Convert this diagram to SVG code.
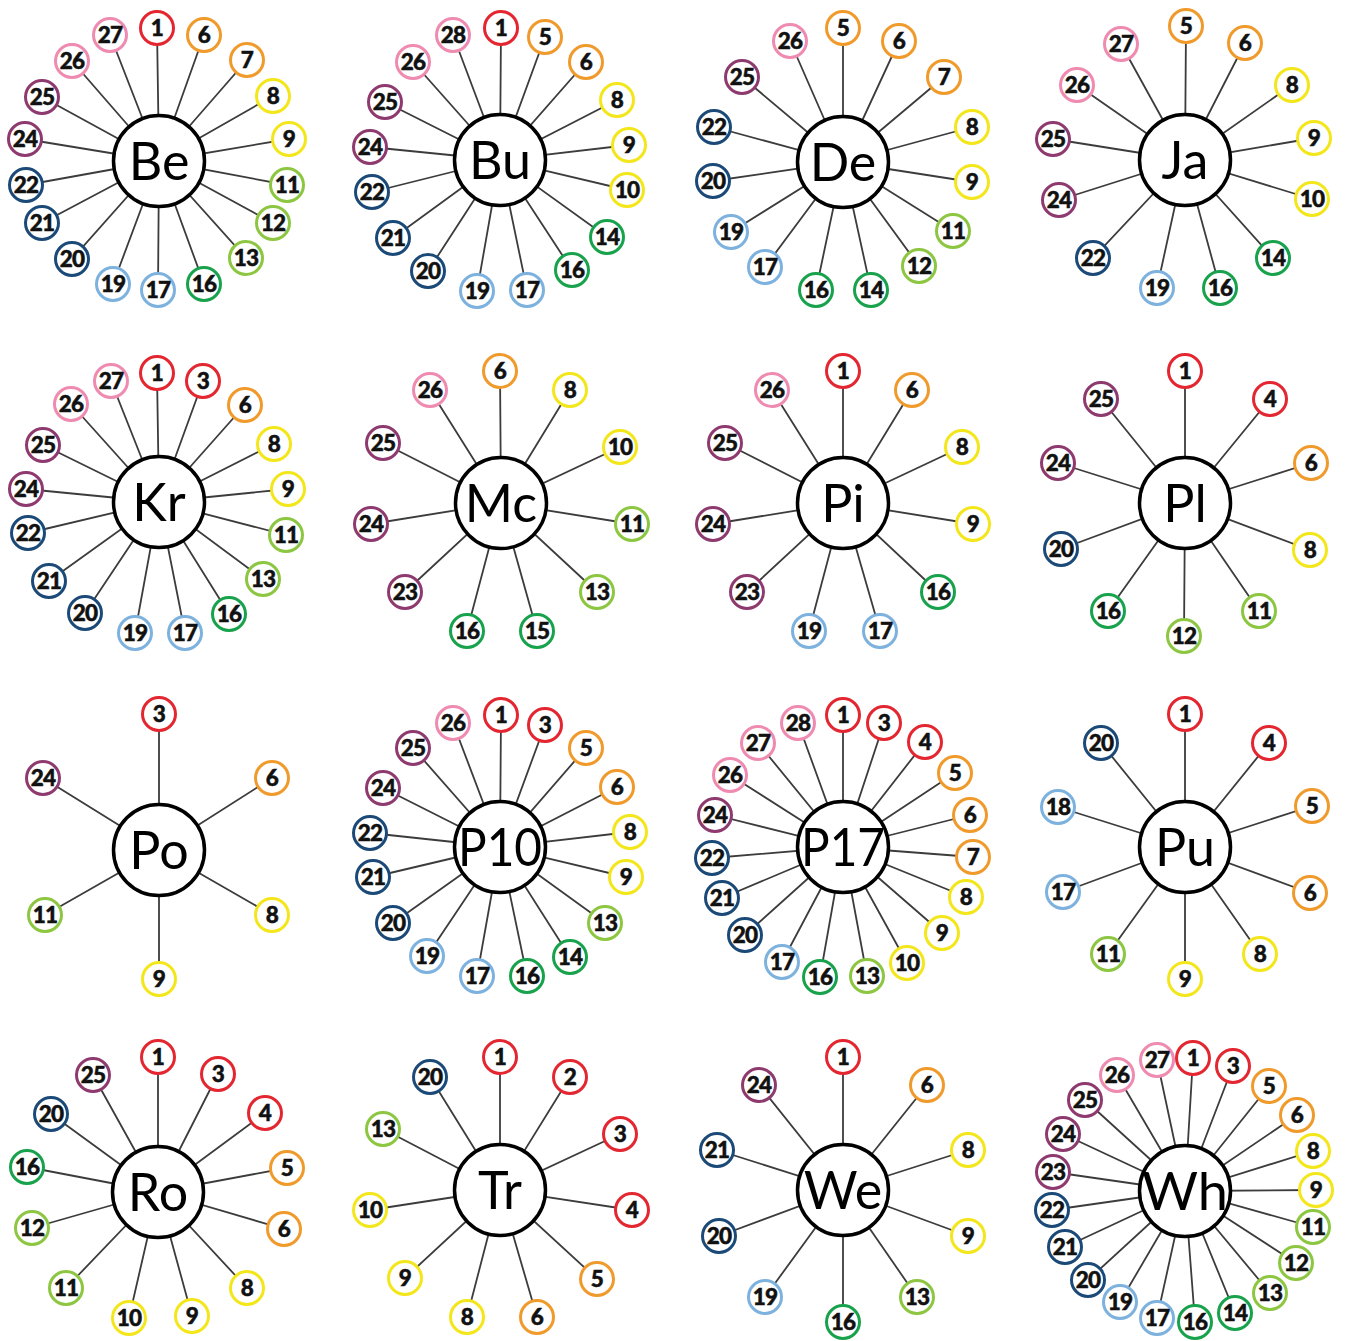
<svg xmlns="http://www.w3.org/2000/svg" width="1345" height="1341" viewBox="0 0 1345 1341">
<style>
.bg{fill:#fff}
#connectors path{fill:none;stroke:#3c3c3c;stroke-width:1.8}
.hub circle{fill:#fff;stroke:#000;stroke-width:3.5}
.hub text{font-family:Lato,"Open Sans","Liberation Sans",sans-serif;font-size:52px;text-anchor:middle;fill:#000}
.s circle{fill:#fff;stroke-width:3}
.s text{font-family:Lato,"Liberation Sans",sans-serif;font-weight:900;font-size:22.5px;text-anchor:middle;fill:#111;stroke:#111;stroke-width:0.5;letter-spacing:-0.8px}
.r circle{stroke:#e32630}
.o circle{stroke:#f09a2c}
.y circle{stroke:#f3e61a}
.l circle{stroke:#8dc641}
.g circle{stroke:#18a24c}
.b circle{stroke:#7db1de}
.d circle{stroke:#1c4a78}
.p circle{stroke:#8f3a6f}
.k circle{stroke:#ef8ab0}
</style>
<rect class="bg" width="1345" height="1341"/>
<g id="connectors">
<path id="be-links" d="M159 161L157 28M159 161L204 35M159 161L247 60M159 161L273 96M159 161L289 139M159 161L287 185M159 161L273 223M159 161L246 258M159 161L204 284M159 161L158 290M159 161L113 284M159 161L72 259M159 161L42 223M159 161L26 185M159 161L25 139M159 161L42 97M159 161L72 61M159 161L110 35"/>
<path id="bu-links" d="M500 160L501 28M500 160L545 37M500 160L586 62M500 160L617 100M500 160L629 145M500 160L627 190M500 160L607 237M500 160L572 270M500 160L527 290M500 160L477 291M500 160L428 271M500 160L393 238M500 160L372 192M500 160L370 147M500 160L385 102M500 160L413 62M500 160L453 35"/>
<path id="de-links" d="M843 162L843 28M843 162L899 41M843 162L944 77M843 162L972 127M843 162L972 182M843 162L953 231M843 162L919 266M843 162L871 290M843 162L816 290M843 162L765 267M843 162L731 232M843 162L713 181M843 162L714 127M843 162L742 77M843 162L790 41"/>
<path id="ja-links" d="M1185 160L1186 26M1185 160L1245 43M1185 160L1292 85M1185 160L1314 138M1185 160L1312 199M1185 160L1273 258M1185 160L1220 288M1185 160L1157 288M1185 160L1093 258M1185 160L1059 200M1185 160L1053 139M1185 160L1077 85M1185 160L1121 44"/>
<path id="kr-links" d="M159 502L157 373M159 502L203 381M159 502L245 405M159 502L274 444M159 502L288 489M159 502L286 535M159 502L263 579M159 502L229 614M159 502L185 633M159 502L135 633M159 502L85 613M159 502L49 581M159 502L28 533M159 502L26 489M159 502L43 445M159 502L71 404M159 502L111 381"/>
<path id="mc-links" d="M501 503L500 371M501 503L570 390M501 503L620 447M501 503L632 524M501 503L597 592M501 503L537 631M501 503L467 631M501 503L405 592M501 503L371 524M501 503L383 443M501 503L430 390"/>
<path id="pi-links" d="M843 503L843 371M843 503L912 390M843 503L962 447M843 503L973 524M843 503L938 592M843 503L880 631M843 503L809 631M843 503L747 592M843 503L713 524M843 503L725 443M843 503L772 390"/>
<path id="pl-links" d="M1185 503L1185 371M1185 503L1270 399M1185 503L1311 463M1185 503L1310 550M1185 503L1259 611M1185 503L1184 636M1185 503L1108 611M1185 503L1061 549M1185 503L1058 463M1185 503L1101 399"/>
<path id="po-links" d="M159 850L159 714M159 850L272 778M159 850L272 915M159 850L159 979M159 850L45 915M159 850L43 778"/>
<path id="p10-links" d="M500 847L501 715M500 847L545 725M500 847L586 748M500 847L617 787M500 847L630 832M500 847L626 877M500 847L605 923M500 847L570 957M500 847L527 976M500 847L477 976M500 847L427 956M500 847L393 923M500 847L373 877M500 847L370 833M500 847L383 788M500 847L413 748M500 847L453 723"/>
<path id="p17-links" d="M843 847L843 715M843 847L884 723M843 847L925 742M843 847L955 773M843 847L970 815M843 847L973 857M843 847L966 897M843 847L942 933M843 847L907 963M843 847L867 976M843 847L820 977M843 847L782 962M843 847L745 935M843 847L722 898M843 847L712 858M843 847L715 815M843 847L730 775M843 847L758 743M843 847L798 723"/>
<path id="pu-links" d="M1185 847L1185 714M1185 847L1269 743M1185 847L1312 806M1185 847L1310 893M1185 847L1260 954M1185 847L1185 979M1185 847L1108 954M1185 847L1063 892M1185 847L1058 807M1185 847L1101 743"/>
<path id="ro-links" d="M158 1192L158 1057M158 1192L218 1074M158 1192L265 1113M158 1192L287 1168M158 1192L284 1229M158 1192L247 1288M158 1192L192 1316M158 1192L129 1318M158 1192L66 1288M158 1192L32 1228M158 1192L27 1167M158 1192L51 1114M158 1192L93 1075"/>
<path id="tr-links" d="M500 1190L500 1057M500 1190L570 1077M500 1190L620 1134M500 1190L632 1210M500 1190L597 1279M500 1190L537 1317M500 1190L467 1317M500 1190L405 1278M500 1190L370 1210M500 1190L383 1129M500 1190L430 1077"/>
<path id="we-links" d="M843 1190L843 1057M843 1190L927 1085M843 1190L968 1150M843 1190L968 1236M843 1190L917 1297M843 1190L843 1322M843 1190L765 1297M843 1190L719 1236M843 1190L717 1150M843 1190L759 1085"/>
<path id="wh-links" d="M1185 1191L1193 1058M1185 1191L1233 1066M1185 1191L1269 1086M1185 1191L1297 1115M1185 1191L1313 1151M1185 1191L1316 1190M1185 1191L1313 1227M1185 1191L1296 1263M1185 1191L1270 1293M1185 1191L1235 1313M1185 1191L1195 1322M1185 1191L1157 1318M1185 1191L1120 1302M1185 1191L1088 1280M1185 1191L1065 1247M1185 1191L1052 1210M1185 1191L1053 1172M1185 1191L1063 1134M1185 1191L1085 1100M1185 1191L1117 1075M1185 1191L1157 1060"/>
</g>

<g id="be" class="hub"><circle cx="159" cy="161" r="45.5"/><text x="159" y="180">Be</text></g>
<g id="be-1" class="s r"><circle cx="157" cy="28" r="16.5"/><text x="157" y="36">1</text></g>
<g id="be-6" class="s o"><circle cx="204" cy="35" r="16.5"/><text x="204" y="43">6</text></g>
<g id="be-7" class="s o"><circle cx="247" cy="60" r="16.5"/><text x="247" y="68">7</text></g>
<g id="be-8" class="s y"><circle cx="273" cy="96" r="16.5"/><text x="273" y="104">8</text></g>
<g id="be-9" class="s y"><circle cx="289" cy="139" r="16.5"/><text x="289" y="147">9</text></g>
<g id="be-11" class="s l"><circle cx="287" cy="185" r="16.5"/><text x="287" y="193">11</text></g>
<g id="be-12" class="s l"><circle cx="273" cy="223" r="16.5"/><text x="273" y="231">12</text></g>
<g id="be-13" class="s l"><circle cx="246" cy="258" r="16.5"/><text x="246" y="266">13</text></g>
<g id="be-16" class="s g"><circle cx="204" cy="284" r="16.5"/><text x="204" y="292">16</text></g>
<g id="be-17" class="s b"><circle cx="158" cy="290" r="16.5"/><text x="158" y="298">17</text></g>
<g id="be-19" class="s b"><circle cx="113" cy="284" r="16.5"/><text x="113" y="292">19</text></g>
<g id="be-20" class="s d"><circle cx="72" cy="259" r="16.5"/><text x="72" y="267">20</text></g>
<g id="be-21" class="s d"><circle cx="42" cy="223" r="16.5"/><text x="42" y="231">21</text></g>
<g id="be-22" class="s d"><circle cx="26" cy="185" r="16.5"/><text x="26" y="193">22</text></g>
<g id="be-24" class="s p"><circle cx="25" cy="139" r="16.5"/><text x="25" y="147">24</text></g>
<g id="be-25" class="s p"><circle cx="42" cy="97" r="16.5"/><text x="42" y="105">25</text></g>
<g id="be-26" class="s k"><circle cx="72" cy="61" r="16.5"/><text x="72" y="69">26</text></g>
<g id="be-27" class="s k"><circle cx="110" cy="35" r="16.5"/><text x="110" y="43">27</text></g>

<g id="bu" class="hub"><circle cx="500" cy="160" r="45.5"/><text x="500" y="179">Bu</text></g>
<g id="bu-1" class="s r"><circle cx="501" cy="28" r="16.5"/><text x="501" y="36">1</text></g>
<g id="bu-5" class="s o"><circle cx="545" cy="37" r="16.5"/><text x="545" y="45">5</text></g>
<g id="bu-6" class="s o"><circle cx="586" cy="62" r="16.5"/><text x="586" y="70">6</text></g>
<g id="bu-8" class="s y"><circle cx="617" cy="100" r="16.5"/><text x="617" y="108">8</text></g>
<g id="bu-9" class="s y"><circle cx="629" cy="145" r="16.5"/><text x="629" y="153">9</text></g>
<g id="bu-10" class="s y"><circle cx="627" cy="190" r="16.5"/><text x="627" y="198">10</text></g>
<g id="bu-14" class="s g"><circle cx="607" cy="237" r="16.5"/><text x="607" y="245">14</text></g>
<g id="bu-16" class="s g"><circle cx="572" cy="270" r="16.5"/><text x="572" y="278">16</text></g>
<g id="bu-17" class="s b"><circle cx="527" cy="290" r="16.5"/><text x="527" y="298">17</text></g>
<g id="bu-19" class="s b"><circle cx="477" cy="291" r="16.5"/><text x="477" y="299">19</text></g>
<g id="bu-20" class="s d"><circle cx="428" cy="271" r="16.5"/><text x="428" y="279">20</text></g>
<g id="bu-21" class="s d"><circle cx="393" cy="238" r="16.5"/><text x="393" y="246">21</text></g>
<g id="bu-22" class="s d"><circle cx="372" cy="192" r="16.5"/><text x="372" y="200">22</text></g>
<g id="bu-24" class="s p"><circle cx="370" cy="147" r="16.5"/><text x="370" y="155">24</text></g>
<g id="bu-25" class="s p"><circle cx="385" cy="102" r="16.5"/><text x="385" y="110">25</text></g>
<g id="bu-26" class="s k"><circle cx="413" cy="62" r="16.5"/><text x="413" y="70">26</text></g>
<g id="bu-28" class="s k"><circle cx="453" cy="35" r="16.5"/><text x="453" y="43">28</text></g>

<g id="de" class="hub"><circle cx="843" cy="162" r="45.5"/><text x="843" y="181">De</text></g>
<g id="de-5" class="s o"><circle cx="843" cy="28" r="16.5"/><text x="843" y="36">5</text></g>
<g id="de-6" class="s o"><circle cx="899" cy="41" r="16.5"/><text x="899" y="49">6</text></g>
<g id="de-7" class="s o"><circle cx="944" cy="77" r="16.5"/><text x="944" y="85">7</text></g>
<g id="de-8" class="s y"><circle cx="972" cy="127" r="16.5"/><text x="972" y="135">8</text></g>
<g id="de-9" class="s y"><circle cx="972" cy="182" r="16.5"/><text x="972" y="190">9</text></g>
<g id="de-11" class="s l"><circle cx="953" cy="231" r="16.5"/><text x="953" y="239">11</text></g>
<g id="de-12" class="s l"><circle cx="919" cy="266" r="16.5"/><text x="919" y="274">12</text></g>
<g id="de-14" class="s g"><circle cx="871" cy="290" r="16.5"/><text x="871" y="298">14</text></g>
<g id="de-16" class="s g"><circle cx="816" cy="290" r="16.5"/><text x="816" y="298">16</text></g>
<g id="de-17" class="s b"><circle cx="765" cy="267" r="16.5"/><text x="765" y="275">17</text></g>
<g id="de-19" class="s b"><circle cx="731" cy="232" r="16.5"/><text x="731" y="240">19</text></g>
<g id="de-20" class="s d"><circle cx="713" cy="181" r="16.5"/><text x="713" y="189">20</text></g>
<g id="de-22" class="s d"><circle cx="714" cy="127" r="16.5"/><text x="714" y="135">22</text></g>
<g id="de-25" class="s p"><circle cx="742" cy="77" r="16.5"/><text x="742" y="85">25</text></g>
<g id="de-26" class="s k"><circle cx="790" cy="41" r="16.5"/><text x="790" y="49">26</text></g>

<g id="ja" class="hub"><circle cx="1185" cy="160" r="45.5"/><text x="1185" y="179">Ja</text></g>
<g id="ja-5" class="s o"><circle cx="1186" cy="26" r="16.5"/><text x="1186" y="34">5</text></g>
<g id="ja-6" class="s o"><circle cx="1245" cy="43" r="16.5"/><text x="1245" y="51">6</text></g>
<g id="ja-8" class="s y"><circle cx="1292" cy="85" r="16.5"/><text x="1292" y="93">8</text></g>
<g id="ja-9" class="s y"><circle cx="1314" cy="138" r="16.5"/><text x="1314" y="146">9</text></g>
<g id="ja-10" class="s y"><circle cx="1312" cy="199" r="16.5"/><text x="1312" y="207">10</text></g>
<g id="ja-14" class="s g"><circle cx="1273" cy="258" r="16.5"/><text x="1273" y="266">14</text></g>
<g id="ja-16" class="s g"><circle cx="1220" cy="288" r="16.5"/><text x="1220" y="296">16</text></g>
<g id="ja-19" class="s b"><circle cx="1157" cy="288" r="16.5"/><text x="1157" y="296">19</text></g>
<g id="ja-22" class="s d"><circle cx="1093" cy="258" r="16.5"/><text x="1093" y="266">22</text></g>
<g id="ja-24" class="s p"><circle cx="1059" cy="200" r="16.5"/><text x="1059" y="208">24</text></g>
<g id="ja-25" class="s p"><circle cx="1053" cy="139" r="16.5"/><text x="1053" y="147">25</text></g>
<g id="ja-26" class="s k"><circle cx="1077" cy="85" r="16.5"/><text x="1077" y="93">26</text></g>
<g id="ja-27" class="s k"><circle cx="1121" cy="44" r="16.5"/><text x="1121" y="52">27</text></g>

<g id="kr" class="hub"><circle cx="159" cy="502" r="45.5"/><text x="159" y="521">Kr</text></g>
<g id="kr-1" class="s r"><circle cx="157" cy="373" r="16.5"/><text x="157" y="381">1</text></g>
<g id="kr-3" class="s r"><circle cx="203" cy="381" r="16.5"/><text x="203" y="389">3</text></g>
<g id="kr-6" class="s o"><circle cx="245" cy="405" r="16.5"/><text x="245" y="413">6</text></g>
<g id="kr-8" class="s y"><circle cx="274" cy="444" r="16.5"/><text x="274" y="452">8</text></g>
<g id="kr-9" class="s y"><circle cx="288" cy="489" r="16.5"/><text x="288" y="497">9</text></g>
<g id="kr-11" class="s l"><circle cx="286" cy="535" r="16.5"/><text x="286" y="543">11</text></g>
<g id="kr-13" class="s l"><circle cx="263" cy="579" r="16.5"/><text x="263" y="587">13</text></g>
<g id="kr-16" class="s g"><circle cx="229" cy="614" r="16.5"/><text x="229" y="622">16</text></g>
<g id="kr-17" class="s b"><circle cx="185" cy="633" r="16.5"/><text x="185" y="641">17</text></g>
<g id="kr-19" class="s b"><circle cx="135" cy="633" r="16.5"/><text x="135" y="641">19</text></g>
<g id="kr-20" class="s d"><circle cx="85" cy="613" r="16.5"/><text x="85" y="621">20</text></g>
<g id="kr-21" class="s d"><circle cx="49" cy="581" r="16.5"/><text x="49" y="589">21</text></g>
<g id="kr-22" class="s d"><circle cx="28" cy="533" r="16.5"/><text x="28" y="541">22</text></g>
<g id="kr-24" class="s p"><circle cx="26" cy="489" r="16.5"/><text x="26" y="497">24</text></g>
<g id="kr-25" class="s p"><circle cx="43" cy="445" r="16.5"/><text x="43" y="453">25</text></g>
<g id="kr-26" class="s k"><circle cx="71" cy="404" r="16.5"/><text x="71" y="412">26</text></g>
<g id="kr-27" class="s k"><circle cx="111" cy="381" r="16.5"/><text x="111" y="389">27</text></g>

<g id="mc" class="hub"><circle cx="501" cy="503" r="45.5"/><text x="501" y="522">Mc</text></g>
<g id="mc-6" class="s o"><circle cx="500" cy="371" r="16.5"/><text x="500" y="379">6</text></g>
<g id="mc-8" class="s y"><circle cx="570" cy="390" r="16.5"/><text x="570" y="398">8</text></g>
<g id="mc-10" class="s y"><circle cx="620" cy="447" r="16.5"/><text x="620" y="455">10</text></g>
<g id="mc-11" class="s l"><circle cx="632" cy="524" r="16.5"/><text x="632" y="532">11</text></g>
<g id="mc-13" class="s l"><circle cx="597" cy="592" r="16.5"/><text x="597" y="600">13</text></g>
<g id="mc-15" class="s g"><circle cx="537" cy="631" r="16.5"/><text x="537" y="639">15</text></g>
<g id="mc-16" class="s g"><circle cx="467" cy="631" r="16.5"/><text x="467" y="639">16</text></g>
<g id="mc-23" class="s p"><circle cx="405" cy="592" r="16.5"/><text x="405" y="600">23</text></g>
<g id="mc-24" class="s p"><circle cx="371" cy="524" r="16.5"/><text x="371" y="532">24</text></g>
<g id="mc-25" class="s p"><circle cx="383" cy="443" r="16.5"/><text x="383" y="451">25</text></g>
<g id="mc-26" class="s k"><circle cx="430" cy="390" r="16.5"/><text x="430" y="398">26</text></g>

<g id="pi" class="hub"><circle cx="843" cy="503" r="45.5"/><text x="843" y="522">Pi</text></g>
<g id="pi-1" class="s r"><circle cx="843" cy="371" r="16.5"/><text x="843" y="379">1</text></g>
<g id="pi-6" class="s o"><circle cx="912" cy="390" r="16.5"/><text x="912" y="398">6</text></g>
<g id="pi-8" class="s y"><circle cx="962" cy="447" r="16.5"/><text x="962" y="455">8</text></g>
<g id="pi-9" class="s y"><circle cx="973" cy="524" r="16.5"/><text x="973" y="532">9</text></g>
<g id="pi-16" class="s g"><circle cx="938" cy="592" r="16.5"/><text x="938" y="600">16</text></g>
<g id="pi-17" class="s b"><circle cx="880" cy="631" r="16.5"/><text x="880" y="639">17</text></g>
<g id="pi-19" class="s b"><circle cx="809" cy="631" r="16.5"/><text x="809" y="639">19</text></g>
<g id="pi-23" class="s p"><circle cx="747" cy="592" r="16.5"/><text x="747" y="600">23</text></g>
<g id="pi-24" class="s p"><circle cx="713" cy="524" r="16.5"/><text x="713" y="532">24</text></g>
<g id="pi-25" class="s p"><circle cx="725" cy="443" r="16.5"/><text x="725" y="451">25</text></g>
<g id="pi-26" class="s k"><circle cx="772" cy="390" r="16.5"/><text x="772" y="398">26</text></g>

<g id="pl" class="hub"><circle cx="1185" cy="503" r="45.5"/><text x="1185" y="522">Pl</text></g>
<g id="pl-1" class="s r"><circle cx="1185" cy="371" r="16.5"/><text x="1185" y="379">1</text></g>
<g id="pl-4" class="s r"><circle cx="1270" cy="399" r="16.5"/><text x="1270" y="407">4</text></g>
<g id="pl-6" class="s o"><circle cx="1311" cy="463" r="16.5"/><text x="1311" y="471">6</text></g>
<g id="pl-8" class="s y"><circle cx="1310" cy="550" r="16.5"/><text x="1310" y="558">8</text></g>
<g id="pl-11" class="s l"><circle cx="1259" cy="611" r="16.5"/><text x="1259" y="619">11</text></g>
<g id="pl-12" class="s l"><circle cx="1184" cy="636" r="16.5"/><text x="1184" y="644">12</text></g>
<g id="pl-16" class="s g"><circle cx="1108" cy="611" r="16.5"/><text x="1108" y="619">16</text></g>
<g id="pl-20" class="s d"><circle cx="1061" cy="549" r="16.5"/><text x="1061" y="557">20</text></g>
<g id="pl-24" class="s p"><circle cx="1058" cy="463" r="16.5"/><text x="1058" y="471">24</text></g>
<g id="pl-25" class="s p"><circle cx="1101" cy="399" r="16.5"/><text x="1101" y="407">25</text></g>

<g id="po" class="hub"><circle cx="159" cy="850" r="45.5"/><text x="159" y="869">Po</text></g>
<g id="po-3" class="s r"><circle cx="159" cy="714" r="16.5"/><text x="159" y="722">3</text></g>
<g id="po-6" class="s o"><circle cx="272" cy="778" r="16.5"/><text x="272" y="786">6</text></g>
<g id="po-8" class="s y"><circle cx="272" cy="915" r="16.5"/><text x="272" y="923">8</text></g>
<g id="po-9" class="s y"><circle cx="159" cy="979" r="16.5"/><text x="159" y="987">9</text></g>
<g id="po-11" class="s l"><circle cx="45" cy="915" r="16.5"/><text x="45" y="923">11</text></g>
<g id="po-24" class="s p"><circle cx="43" cy="778" r="16.5"/><text x="43" y="786">24</text></g>

<g id="p10" class="hub"><circle cx="500" cy="847" r="45.5"/><text x="500" y="866" textLength="84" lengthAdjust="spacingAndGlyphs">P10</text></g>
<g id="p10-1" class="s r"><circle cx="501" cy="715" r="16.5"/><text x="501" y="723">1</text></g>
<g id="p10-3" class="s r"><circle cx="545" cy="725" r="16.5"/><text x="545" y="733">3</text></g>
<g id="p10-5" class="s o"><circle cx="586" cy="748" r="16.5"/><text x="586" y="756">5</text></g>
<g id="p10-6" class="s o"><circle cx="617" cy="787" r="16.5"/><text x="617" y="795">6</text></g>
<g id="p10-8" class="s y"><circle cx="630" cy="832" r="16.5"/><text x="630" y="840">8</text></g>
<g id="p10-9" class="s y"><circle cx="626" cy="877" r="16.5"/><text x="626" y="885">9</text></g>
<g id="p10-13" class="s l"><circle cx="605" cy="923" r="16.5"/><text x="605" y="931">13</text></g>
<g id="p10-14" class="s g"><circle cx="570" cy="957" r="16.5"/><text x="570" y="965">14</text></g>
<g id="p10-16" class="s g"><circle cx="527" cy="976" r="16.5"/><text x="527" y="984">16</text></g>
<g id="p10-17" class="s b"><circle cx="477" cy="976" r="16.5"/><text x="477" y="984">17</text></g>
<g id="p10-19" class="s b"><circle cx="427" cy="956" r="16.5"/><text x="427" y="964">19</text></g>
<g id="p10-20" class="s d"><circle cx="393" cy="923" r="16.5"/><text x="393" y="931">20</text></g>
<g id="p10-21" class="s d"><circle cx="373" cy="877" r="16.5"/><text x="373" y="885">21</text></g>
<g id="p10-22" class="s d"><circle cx="370" cy="833" r="16.5"/><text x="370" y="841">22</text></g>
<g id="p10-24" class="s p"><circle cx="383" cy="788" r="16.5"/><text x="383" y="796">24</text></g>
<g id="p10-25" class="s p"><circle cx="413" cy="748" r="16.5"/><text x="413" y="756">25</text></g>
<g id="p10-26" class="s k"><circle cx="453" cy="723" r="16.5"/><text x="453" y="731">26</text></g>

<g id="p17" class="hub"><circle cx="843" cy="847" r="45.5"/><text x="843" y="866" textLength="84" lengthAdjust="spacingAndGlyphs">P17</text></g>
<g id="p17-1" class="s r"><circle cx="843" cy="715" r="16.5"/><text x="843" y="723">1</text></g>
<g id="p17-3" class="s r"><circle cx="884" cy="723" r="16.5"/><text x="884" y="731">3</text></g>
<g id="p17-4" class="s r"><circle cx="925" cy="742" r="16.5"/><text x="925" y="750">4</text></g>
<g id="p17-5" class="s o"><circle cx="955" cy="773" r="16.5"/><text x="955" y="781">5</text></g>
<g id="p17-6" class="s o"><circle cx="970" cy="815" r="16.5"/><text x="970" y="823">6</text></g>
<g id="p17-7" class="s o"><circle cx="973" cy="857" r="16.5"/><text x="973" y="865">7</text></g>
<g id="p17-8" class="s y"><circle cx="966" cy="897" r="16.5"/><text x="966" y="905">8</text></g>
<g id="p17-9" class="s y"><circle cx="942" cy="933" r="16.5"/><text x="942" y="941">9</text></g>
<g id="p17-10" class="s y"><circle cx="907" cy="963" r="16.5"/><text x="907" y="971">10</text></g>
<g id="p17-13" class="s l"><circle cx="867" cy="976" r="16.5"/><text x="867" y="984">13</text></g>
<g id="p17-16" class="s g"><circle cx="820" cy="977" r="16.5"/><text x="820" y="985">16</text></g>
<g id="p17-17" class="s b"><circle cx="782" cy="962" r="16.5"/><text x="782" y="970">17</text></g>
<g id="p17-20" class="s d"><circle cx="745" cy="935" r="16.5"/><text x="745" y="943">20</text></g>
<g id="p17-21" class="s d"><circle cx="722" cy="898" r="16.5"/><text x="722" y="906">21</text></g>
<g id="p17-22" class="s d"><circle cx="712" cy="858" r="16.5"/><text x="712" y="866">22</text></g>
<g id="p17-24" class="s p"><circle cx="715" cy="815" r="16.5"/><text x="715" y="823">24</text></g>
<g id="p17-26" class="s k"><circle cx="730" cy="775" r="16.5"/><text x="730" y="783">26</text></g>
<g id="p17-27" class="s k"><circle cx="758" cy="743" r="16.5"/><text x="758" y="751">27</text></g>
<g id="p17-28" class="s k"><circle cx="798" cy="723" r="16.5"/><text x="798" y="731">28</text></g>

<g id="pu" class="hub"><circle cx="1185" cy="847" r="45.5"/><text x="1185" y="866">Pu</text></g>
<g id="pu-1" class="s r"><circle cx="1185" cy="714" r="16.5"/><text x="1185" y="722">1</text></g>
<g id="pu-4" class="s r"><circle cx="1269" cy="743" r="16.5"/><text x="1269" y="751">4</text></g>
<g id="pu-5" class="s o"><circle cx="1312" cy="806" r="16.5"/><text x="1312" y="814">5</text></g>
<g id="pu-6" class="s o"><circle cx="1310" cy="893" r="16.5"/><text x="1310" y="901">6</text></g>
<g id="pu-8" class="s y"><circle cx="1260" cy="954" r="16.5"/><text x="1260" y="962">8</text></g>
<g id="pu-9" class="s y"><circle cx="1185" cy="979" r="16.5"/><text x="1185" y="987">9</text></g>
<g id="pu-11" class="s l"><circle cx="1108" cy="954" r="16.5"/><text x="1108" y="962">11</text></g>
<g id="pu-17" class="s b"><circle cx="1063" cy="892" r="16.5"/><text x="1063" y="900">17</text></g>
<g id="pu-18" class="s b"><circle cx="1058" cy="807" r="16.5"/><text x="1058" y="815">18</text></g>
<g id="pu-20" class="s d"><circle cx="1101" cy="743" r="16.5"/><text x="1101" y="751">20</text></g>

<g id="ro" class="hub"><circle cx="158" cy="1192" r="45.5"/><text x="158" y="1211">Ro</text></g>
<g id="ro-1" class="s r"><circle cx="158" cy="1057" r="16.5"/><text x="158" y="1065">1</text></g>
<g id="ro-3" class="s r"><circle cx="218" cy="1074" r="16.5"/><text x="218" y="1082">3</text></g>
<g id="ro-4" class="s r"><circle cx="265" cy="1113" r="16.5"/><text x="265" y="1121">4</text></g>
<g id="ro-5" class="s o"><circle cx="287" cy="1168" r="16.5"/><text x="287" y="1176">5</text></g>
<g id="ro-6" class="s o"><circle cx="284" cy="1229" r="16.5"/><text x="284" y="1237">6</text></g>
<g id="ro-8" class="s y"><circle cx="247" cy="1288" r="16.5"/><text x="247" y="1296">8</text></g>
<g id="ro-9" class="s y"><circle cx="192" cy="1316" r="16.5"/><text x="192" y="1324">9</text></g>
<g id="ro-10" class="s y"><circle cx="129" cy="1318" r="16.5"/><text x="129" y="1326">10</text></g>
<g id="ro-11" class="s l"><circle cx="66" cy="1288" r="16.5"/><text x="66" y="1296">11</text></g>
<g id="ro-12" class="s l"><circle cx="32" cy="1228" r="16.5"/><text x="32" y="1236">12</text></g>
<g id="ro-16" class="s g"><circle cx="27" cy="1167" r="16.5"/><text x="27" y="1175">16</text></g>
<g id="ro-20" class="s d"><circle cx="51" cy="1114" r="16.5"/><text x="51" y="1122">20</text></g>
<g id="ro-25" class="s p"><circle cx="93" cy="1075" r="16.5"/><text x="93" y="1083">25</text></g>

<g id="tr" class="hub"><circle cx="500" cy="1190" r="45.5"/><text x="500" y="1209">Tr</text></g>
<g id="tr-1" class="s r"><circle cx="500" cy="1057" r="16.5"/><text x="500" y="1065">1</text></g>
<g id="tr-2" class="s r"><circle cx="570" cy="1077" r="16.5"/><text x="570" y="1085">2</text></g>
<g id="tr-3" class="s r"><circle cx="620" cy="1134" r="16.5"/><text x="620" y="1142">3</text></g>
<g id="tr-4" class="s r"><circle cx="632" cy="1210" r="16.5"/><text x="632" y="1218">4</text></g>
<g id="tr-5" class="s o"><circle cx="597" cy="1279" r="16.5"/><text x="597" y="1287">5</text></g>
<g id="tr-6" class="s o"><circle cx="537" cy="1317" r="16.5"/><text x="537" y="1325">6</text></g>
<g id="tr-8" class="s y"><circle cx="467" cy="1317" r="16.5"/><text x="467" y="1325">8</text></g>
<g id="tr-9" class="s y"><circle cx="405" cy="1278" r="16.5"/><text x="405" y="1286">9</text></g>
<g id="tr-10" class="s y"><circle cx="370" cy="1210" r="16.5"/><text x="370" y="1218">10</text></g>
<g id="tr-13" class="s l"><circle cx="383" cy="1129" r="16.5"/><text x="383" y="1137">13</text></g>
<g id="tr-20" class="s d"><circle cx="430" cy="1077" r="16.5"/><text x="430" y="1085">20</text></g>

<g id="we" class="hub"><circle cx="843" cy="1190" r="45.5"/><text x="843" y="1209">We</text></g>
<g id="we-1" class="s r"><circle cx="843" cy="1057" r="16.5"/><text x="843" y="1065">1</text></g>
<g id="we-6" class="s o"><circle cx="927" cy="1085" r="16.5"/><text x="927" y="1093">6</text></g>
<g id="we-8" class="s y"><circle cx="968" cy="1150" r="16.5"/><text x="968" y="1158">8</text></g>
<g id="we-9" class="s y"><circle cx="968" cy="1236" r="16.5"/><text x="968" y="1244">9</text></g>
<g id="we-13" class="s l"><circle cx="917" cy="1297" r="16.5"/><text x="917" y="1305">13</text></g>
<g id="we-16" class="s g"><circle cx="843" cy="1322" r="16.5"/><text x="843" y="1330">16</text></g>
<g id="we-19" class="s b"><circle cx="765" cy="1297" r="16.5"/><text x="765" y="1305">19</text></g>
<g id="we-20" class="s d"><circle cx="719" cy="1236" r="16.5"/><text x="719" y="1244">20</text></g>
<g id="we-21" class="s d"><circle cx="717" cy="1150" r="16.5"/><text x="717" y="1158">21</text></g>
<g id="we-24" class="s p"><circle cx="759" cy="1085" r="16.5"/><text x="759" y="1093">24</text></g>

<g id="wh" class="hub"><circle cx="1185" cy="1191" r="45.5"/><text x="1185" y="1210" textLength="86" lengthAdjust="spacingAndGlyphs">Wh</text></g>
<g id="wh-1" class="s r"><circle cx="1193" cy="1058" r="16.5"/><text x="1193" y="1066">1</text></g>
<g id="wh-3" class="s r"><circle cx="1233" cy="1066" r="16.5"/><text x="1233" y="1074">3</text></g>
<g id="wh-5" class="s o"><circle cx="1269" cy="1086" r="16.5"/><text x="1269" y="1094">5</text></g>
<g id="wh-6" class="s o"><circle cx="1297" cy="1115" r="16.5"/><text x="1297" y="1123">6</text></g>
<g id="wh-8" class="s y"><circle cx="1313" cy="1151" r="16.5"/><text x="1313" y="1159">8</text></g>
<g id="wh-9" class="s y"><circle cx="1316" cy="1190" r="16.5"/><text x="1316" y="1198">9</text></g>
<g id="wh-11" class="s l"><circle cx="1313" cy="1227" r="16.5"/><text x="1313" y="1235">11</text></g>
<g id="wh-12" class="s l"><circle cx="1296" cy="1263" r="16.5"/><text x="1296" y="1271">12</text></g>
<g id="wh-13" class="s l"><circle cx="1270" cy="1293" r="16.5"/><text x="1270" y="1301">13</text></g>
<g id="wh-14" class="s g"><circle cx="1235" cy="1313" r="16.5"/><text x="1235" y="1321">14</text></g>
<g id="wh-16" class="s g"><circle cx="1195" cy="1322" r="16.5"/><text x="1195" y="1330">16</text></g>
<g id="wh-17" class="s b"><circle cx="1157" cy="1318" r="16.5"/><text x="1157" y="1326">17</text></g>
<g id="wh-19" class="s b"><circle cx="1120" cy="1302" r="16.5"/><text x="1120" y="1310">19</text></g>
<g id="wh-20" class="s d"><circle cx="1088" cy="1280" r="16.5"/><text x="1088" y="1288">20</text></g>
<g id="wh-21" class="s d"><circle cx="1065" cy="1247" r="16.5"/><text x="1065" y="1255">21</text></g>
<g id="wh-22" class="s d"><circle cx="1052" cy="1210" r="16.5"/><text x="1052" y="1218">22</text></g>
<g id="wh-23" class="s p"><circle cx="1053" cy="1172" r="16.5"/><text x="1053" y="1180">23</text></g>
<g id="wh-24" class="s p"><circle cx="1063" cy="1134" r="16.5"/><text x="1063" y="1142">24</text></g>
<g id="wh-25" class="s p"><circle cx="1085" cy="1100" r="16.5"/><text x="1085" y="1108">25</text></g>
<g id="wh-26" class="s k"><circle cx="1117" cy="1075" r="16.5"/><text x="1117" y="1083">26</text></g>
<g id="wh-27" class="s k"><circle cx="1157" cy="1060" r="16.5"/><text x="1157" y="1068">27</text></g>
</svg>
